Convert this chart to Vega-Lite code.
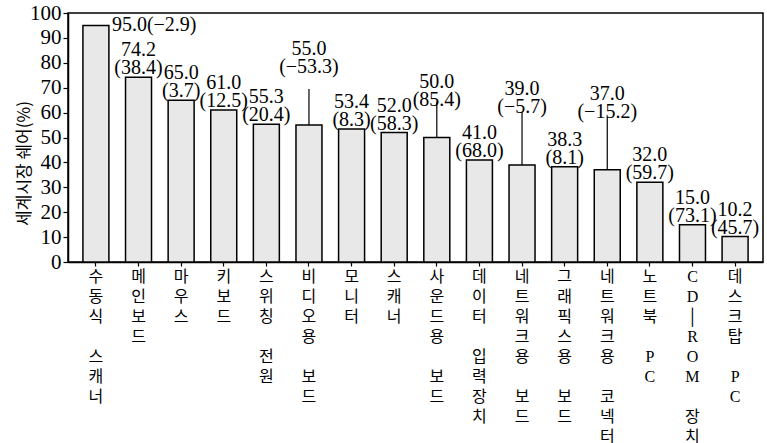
{
  "$schema": "https://vega.github.io/schema/vega-lite/v6.json",
  "width": 695,
  "height": 249,
  "autosize": "none",
  "padding": {"left": 68, "top": 13, "right": 4, "bottom": 181},
  "background": "white",
  "config": {
    "view": {"stroke": "black", "strokeWidth": 1.5},
    "font": "Liberation Serif, Noto Sans CJK KR",
    "axis": {"domainColor": "black", "domainWidth": 1.5, "tickColor": "black", "tickWidth": 1.2, "labelColor": "black", "titleColor": "black", "grid": false}
  },
  "data": {"values": [
    {"item": "수동식 스캐너", "share": 95.0, "change": -2.9},
    {"item": "메인보드", "share": 74.2, "change": 38.4},
    {"item": "마우스", "share": 65.0, "change": 3.7},
    {"item": "키보드", "share": 61.0, "change": 12.5},
    {"item": "스위칭 전원", "share": 55.3, "change": 20.4},
    {"item": "비디오용 보드", "share": 55.0, "change": -53.3},
    {"item": "모니터", "share": 53.4, "change": 8.3},
    {"item": "스캐너", "share": 52.0, "change": 58.3},
    {"item": "사운드용 보드", "share": 50.0, "change": 85.4},
    {"item": "데이터 입력장치", "share": 41.0, "change": 68.0},
    {"item": "네트워크용 보드", "share": 39.0, "change": -5.7},
    {"item": "그래픽스용 보드", "share": 38.3, "change": 8.1},
    {"item": "네트워크용 코넥터", "share": 37.0, "change": -15.2},
    {"item": "노트북 PC", "share": 32.0, "change": 59.7},
    {"item": "CD-ROM 장치", "share": 15.0, "change": 73.1},
    {"item": "데스크탑 PC", "share": 10.2, "change": 45.7}
  ]},
  "transform": [
    {"calculate": "[format(datum.share,'.1f'), '(' + format(datum.change,'.1f') + ')']", "as": "lab2"},
    {"calculate": "format(datum.share,'.1f') + '(' + format(datum.change,'.1f') + ')'", "as": "lab1"}
  ],
  "encoding": {
    "x": {
      "field": "item", "type": "nominal", "sort": null,
      "scale": {"paddingInner": 0.39, "paddingOuter": 0.35},
      "axis": {
        "title": null, "labelAngle": 0, "labelFontSize": 16, "labelLineHeight": 20,
        "labelPadding": 2, "labelBaseline": "top", "labelAlign": "center", "tickSize": 4,
        "labelFont": "Liberation Serif, Noto Sans CJK KR",
        "labelExpr": "split(replace(replace(datum.label,'-','\u2502'),' ','\u2800'),'')"
      }
    },
    "y": {
      "field": "share", "type": "quantitative",
      "scale": {"domain": [0, 100], "nice": false},
      "axis": {
        "values": [0, 10, 20, 30, 40, 50, 60, 70, 80, 90, 100],
        "title": "세계시장 쉐어(%)", "titleFont": "Noto Sans CJK KR", "titleFontSize": 17,
        "titleFontWeight": "normal", "titleAngle": -90, "titleX": -44, "titleY": 150,
        "titleAlign": "center", "titleBaseline": "middle",
        "labelFontSize": 21, "labelPadding": 2, "tickSize": 5
      }
    }
  },
  "layer": [
    {"mark": {"type": "bar", "fill": "#e8e8e8", "stroke": "black", "strokeWidth": 1.5}},
    {
      "transform": [{"filter": {"not": {"field": "item", "oneOf": ["수동식 스캐너", "비디오용 보드", "사운드용 보드", "네트워크용 보드", "네트워크용 코넥터"]}}}],
      "mark": {"type": "text", "fontSize": 20, "lineHeight": 18, "baseline": "bottom", "dy": -17, "color": "black"},
      "encoding": {"text": {"field": "lab2"}}
    },
    {
      "transform": [{"filter": {"field": "item", "equal": "수동식 스캐너"}}],
      "mark": {"type": "text", "fontSize": 20, "align": "left", "baseline": "middle", "dx": 16, "color": "black"},
      "encoding": {"text": {"field": "lab1"}}
    },
    {
      "transform": [{"filter": {"field": "item", "oneOf": ["비디오용 보드", "네트워크용 보드", "네트워크용 코넥터"]}}],
      "mark": {"type": "text", "fontSize": 20, "lineHeight": 18, "baseline": "bottom", "dy": -66, "color": "black"},
      "encoding": {"text": {"field": "lab2"}}
    },
    {
      "transform": [{"filter": {"field": "item", "equal": "사운드용 보드"}}],
      "mark": {"type": "text", "fontSize": 20, "lineHeight": 18, "baseline": "bottom", "dy": -46, "color": "black"},
      "encoding": {"text": {"field": "lab2"}}
    },
    {
      "transform": [{"filter": {"field": "item", "oneOf": ["네트워크용 보드", "네트워크용 코넥터"]}}],
      "mark": {"type": "rule", "color": "black", "strokeWidth": 1.2, "y2Offset": -53},
      "encoding": {"y2": {"field": "share"}}
    },
    {
      "transform": [{"filter": {"field": "item", "oneOf": ["비디오용 보드", "사운드용 보드"]}}],
      "mark": {"type": "rule", "color": "black", "strokeWidth": 1.2, "y2Offset": -36},
      "encoding": {"y2": {"field": "share"}}
    }
  ]
}
